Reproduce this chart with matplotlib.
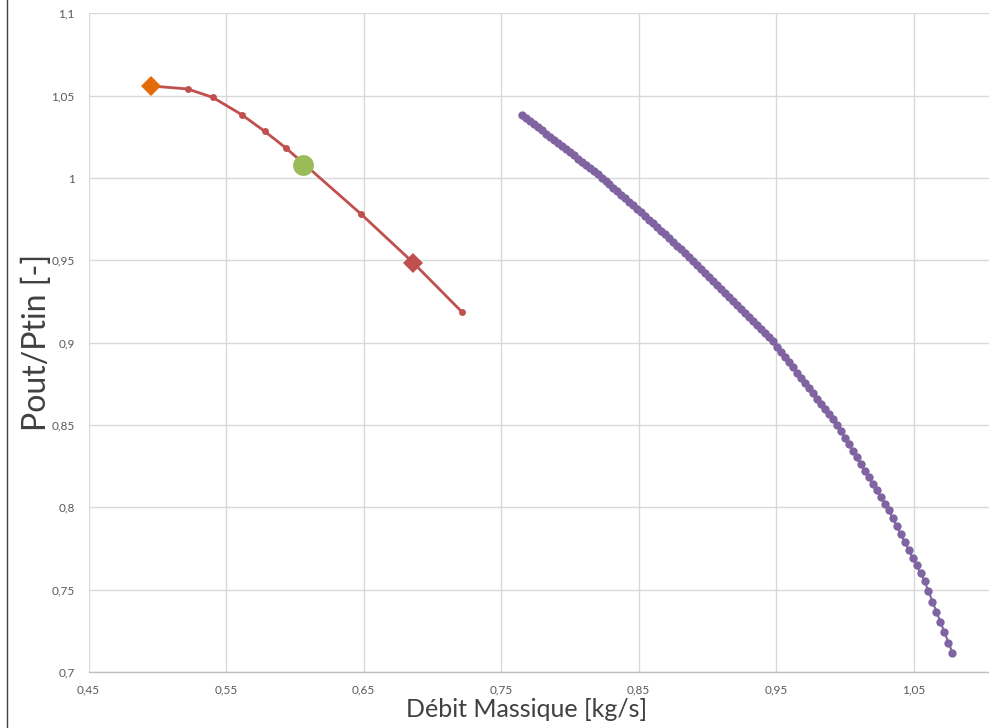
import matplotlib
matplotlib.use("Agg")
import matplotlib.pyplot as plt
from matplotlib.lines import Line2D
from matplotlib.ticker import FuncFormatter

# ---- data ----
red_x = [0.4952, 0.5221, 0.5403, 0.5614, 0.5781, 0.5939, 0.6482, 0.6862, 0.7216]
red_y = [1.0559, 1.0541, 1.0490, 1.0385, 1.0284, 1.0180, 0.9781, 0.9485, 0.9186]

orange_pt = (0.4952, 1.0559)
green_pt = (0.6060, 1.0081)
redmark_pt = (0.6862, 0.9485)

purple_x = [
    0.7651, 0.7680, 0.7709, 0.7738, 0.7767, 0.7796, 0.7825, 0.7854, 0.7883, 0.7912,
    0.7941, 0.7970, 0.7999, 0.8028, 0.8057, 0.8086, 0.8115, 0.8144, 0.8173, 0.8202,
    0.8231,
    0.8260, 0.8289, 0.8318, 0.8347, 0.8376, 0.8405, 0.8434, 0.8463, 0.8492,
    0.8521, 0.8550, 0.8579, 0.8608, 0.8637, 0.8666, 0.8695, 0.8724, 0.8753, 0.8782,
    0.8811, 0.8840, 0.8869,
    0.8898, 0.8927, 0.8956, 0.8985, 0.9014, 0.9043, 0.9072, 0.9101, 0.9130, 0.9159,
    0.9188, 0.9217, 0.9246, 0.9275, 0.9304, 0.9333, 0.9362, 0.9391, 0.9420, 0.9449,
    0.9478,
    0.9507, 0.9536, 0.9565, 0.9594, 0.9623, 0.9652, 0.9681, 0.9710, 0.9739, 0.9768,
    0.9797, 0.9826, 0.9855, 0.9884, 0.9913, 0.9942,
    0.9971, 1.0000, 1.0029, 1.0058, 1.0087, 1.0116, 1.0145, 1.0174, 1.0203, 1.0232,
    1.0261, 1.0290, 1.0319,
    1.0348, 1.0377, 1.0406, 1.0435, 1.0464, 1.0493, 1.0522, 1.0551, 1.0580,
    1.0609, 1.0638, 1.0667, 1.0696, 1.0725, 1.0754, 1.0783,
]
purple_y = [
    1.0385, 1.0366, 1.0347, 1.0328, 1.0309, 1.0289, 1.0270, 1.0251, 1.0232, 1.0213,
    1.0194, 1.0175, 1.0156, 1.0137, 1.0117, 1.0098, 1.0079, 1.0060, 1.0041, 1.0022,
    1.0003,
    0.9982, 0.9961, 0.9940, 0.9919, 0.9898, 0.9877, 0.9856, 0.9835, 0.9814,
    0.9792, 0.9769, 0.9747, 0.9724, 0.9702, 0.9679, 0.9657, 0.9634, 0.9612, 0.9589,
    0.9567, 0.9544, 0.9522,
    0.9498, 0.9473, 0.9449, 0.9424, 0.9400, 0.9375, 0.9351, 0.9326, 0.9302, 0.9277,
    0.9253, 0.9228, 0.9204, 0.9179, 0.9155, 0.9130, 0.9106, 0.9081, 0.9057, 0.9032,
    0.9008,
    0.8976, 0.8945, 0.8913, 0.8881, 0.8850, 0.8818, 0.8787, 0.8755, 0.8723, 0.8692,
    0.8660, 0.8628, 0.8597, 0.8565, 0.8534, 0.8502,
    0.8462, 0.8422, 0.8382, 0.8342, 0.8302, 0.8262, 0.8222, 0.8182, 0.8142, 0.8102,
    0.8062, 0.8022, 0.7982,
    0.7934, 0.7886, 0.7838, 0.7790, 0.7742, 0.7694, 0.7646, 0.7599, 0.7551,
    0.7489, 0.7427, 0.7365, 0.7303, 0.7240, 0.7178, 0.7116,
]

x_ticks = [0.45, 0.55, 0.65, 0.75, 0.85, 0.95, 1.05]
y_ticks = [0.7, 0.75, 0.8, 0.85, 0.9, 0.95, 1.0, 1.05, 1.1]

x_label = "Débit Massique [kg/s]"
y_label = "Pout/Ptin [-]"

# ---- styling ----
plt.rcParams['font.family'] = ['Lato', 'DejaVu Sans']

W, H = 989, 728
fig = plt.figure(figsize=(W / 100, H / 100), dpi=100)
fig.patch.set_facecolor('white')

ax_left = 88.5 / W
ax_bottom = 1 - 671.8 / H
ax_top = 1 - 13.4 / H
ax_right = (88.5 + 1375 * 0.70) / W
ax = fig.add_axes([ax_left, ax_bottom, ax_right - ax_left, ax_top - ax_bottom])
ax_w_px = (ax_right - ax_left) * W
ax_h_px = (ax_top - ax_bottom) * H

ax.set_xlim(0.45, 1.15)
ax.set_ylim(0.7, 1.1)
ax.set_xticks(x_ticks)
ax.set_yticks(y_ticks)

def fr(v, pos=None):
    s = f"{v:.2f}".rstrip('0').rstrip('.')
    return s.replace('.', ',')

ax.xaxis.set_major_formatter(FuncFormatter(fr))
ax.yaxis.set_major_formatter(FuncFormatter(fr))

grid_c = '#D9D9D9'
ax.grid(True, color=grid_c, linewidth=1.0)
ax.set_axisbelow(True)
for s in ['top', 'right', 'left']:
    ax.spines[s].set_visible(False)
ax.spines['bottom'].set_color('#BFBFBF')
ax.spines['bottom'].set_linewidth(1.0)
ax.tick_params(axis='both', length=0, labelsize=8.5, colors='#595959')
ax.tick_params(axis='y', pad=10)
ax.tick_params(axis='x', pad=9)

ax.set_xlabel(x_label, fontsize=18, color='#404040')
ax.set_ylabel(y_label, fontsize=23, color='#404040')
ax.xaxis.set_label_coords((527 - 88.5) / ax_w_px, (671.8 - 698) / ax_h_px)
ax.yaxis.set_label_coords((52 - 88.5) / ax_w_px, 0.5)

# ---- series ----
red_c = '#C0504D'
ax.plot(red_x, red_y, color=red_c, linewidth=2, marker='o', markersize=5,
        markeredgewidth=0, zorder=3)
ax.plot(purple_x, purple_y, color='#8064A2', linewidth=1.5, marker='o',
        markersize=6, markeredgewidth=0, zorder=3)
ax.plot([orange_pt[0]], [orange_pt[1]], marker='D', color='#E36C09',
        markersize=10, markeredgewidth=0, linestyle='none', zorder=4)
ax.plot([redmark_pt[0]], [redmark_pt[1]], marker='D', color=red_c,
        markersize=10.5, markeredgewidth=0, linestyle='none', zorder=4)
ax.plot([green_pt[0]], [green_pt[1]], marker='o', color='#9BBB59',
        markersize=15, markeredgewidth=0, linestyle='none', zorder=4)

# chart-area left border
fig.add_artist(Line2D([6.5 / W, 6.5 / W], [0, 1], color='#404040',
                      linewidth=1.0, transform=fig.transFigure))

fig.savefig('out.png', dpi=100)
